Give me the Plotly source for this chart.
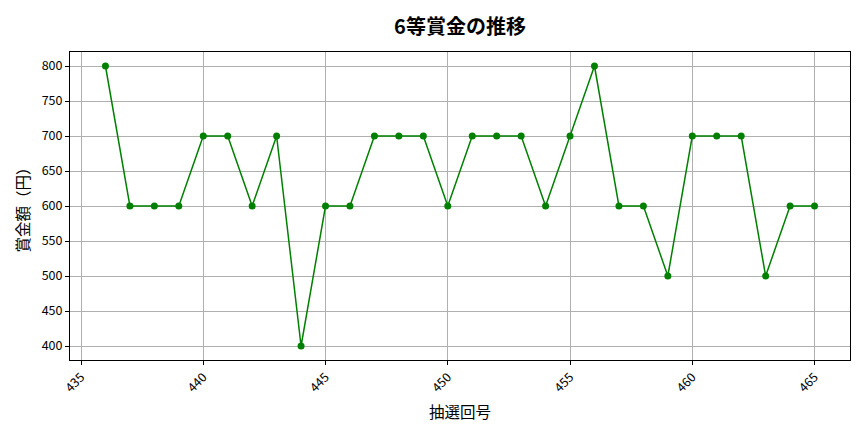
import plotly.graph_objects as go

draws = list(range(436, 466))
prizes = [800, 600, 600, 600, 700, 700, 600, 700, 400, 600,
          600, 700, 700, 700, 600, 700, 700, 700, 600, 700,
          800, 600, 600, 500, 700, 700, 700, 500, 600, 600]
x_ticks = [435, 440, 445, 450, 455, 460, 465]
y_ticks = [400, 450, 500, 550, 600, 650, 700, 750, 800]

FONT = "Noto Sans CJK JP"

fig = go.Figure(go.Scatter(
    x=draws, y=prizes, mode="lines+markers",
    line=dict(color="green", width=1.5),
    marker=dict(color="green", size=7),
))

fig.update_layout(
    width=856, height=424,
    margin=dict(l=62, r=14, t=44, b=72),
    plot_bgcolor="white", paper_bgcolor="white",
    font=dict(family=FONT, color="black", size=12.5),
    title=dict(text="6等賞金の推移", xref="paper", x=0.5, xanchor="center",
               yref="container", y=0.955, yanchor="middle",
               font=dict(family=FONT, size=20, color="black", weight=600)),
    showlegend=False,
)
fig.update_xaxes(
    range=[434.55, 466.45], tickvals=x_ticks, ticktext=[str(v) for v in x_ticks],
    tickangle=-45, showgrid=True, gridcolor="#b0b0b0", gridwidth=0.8,
    showline=True, linecolor="black", linewidth=1, mirror=True,
    ticks="outside", ticklen=4, tickcolor="black", zeroline=False,
    title=dict(text="抽選回号", font=dict(family=FONT, size=15.5), standoff=12),
)
fig.update_yaxes(
    range=[380, 820], tickvals=y_ticks, ticktext=[str(v) for v in y_ticks],
    showgrid=True, gridcolor="#b0b0b0", gridwidth=0.8,
    showline=True, linecolor="black", linewidth=1, mirror=True,
    ticks="outside", ticklen=4, tickcolor="black", zeroline=False,
    title=dict(text="賞金額（円）", font=dict(family=FONT, size=15.5), standoff=8),
)

fig.write_html("out.html")
